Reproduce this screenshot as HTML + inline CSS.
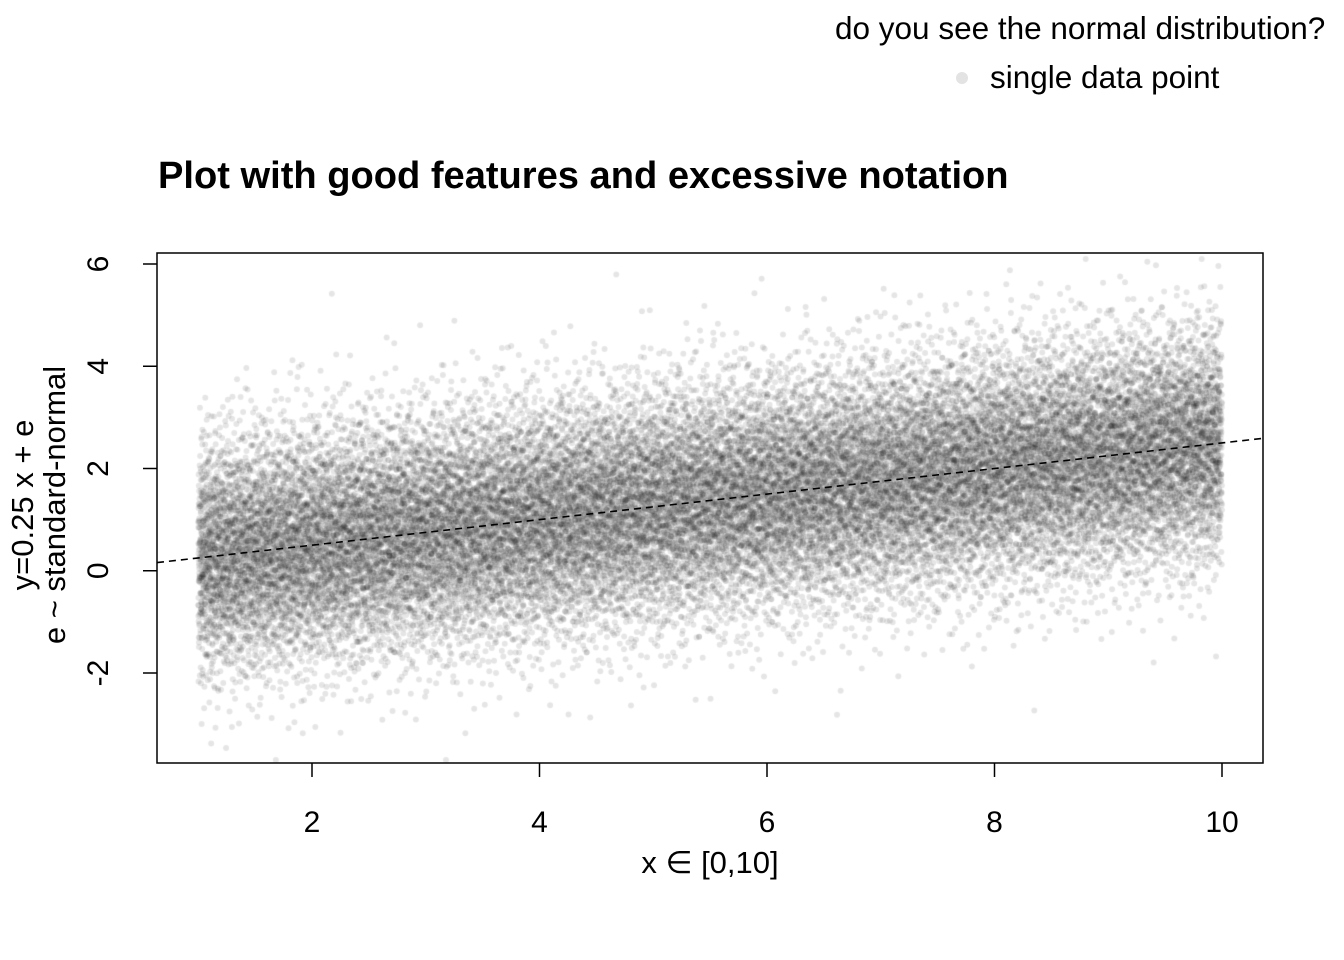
<!DOCTYPE html>
<html><head><meta charset="utf-8"><style>
body{margin:0;background:#fff;width:1344px;height:960px;overflow:hidden;font-family:"Liberation Sans",sans-serif}
svg,canvas{position:absolute;left:0;top:0}
</style></head><body>
<canvas id="pts" width="1344" height="960"></canvas>
<svg id="chart" width="1344" height="960" font-family="Liberation Sans, sans-serif">
<text x="835" y="39" font-size="31.5">do you see the normal distribution?</text>
<circle cx="962" cy="78" r="6" fill="#e3e3e3"/>
<text x="990" y="88" font-size="31.5">single data point</text>
<text x="158" y="188" font-size="38.1" font-weight="bold">Plot with good features and excessive notation</text>
<rect x="157" y="253" width="1106" height="510" fill="none" stroke="#000" stroke-width="1.5"/>
<g id="xaxis"></g>
<g id="yaxis"></g>
<line id="fit" stroke="#000" stroke-width="1.6" stroke-dasharray="7,5"/>
<text x="710" y="873" font-size="31" text-anchor="middle">x ∈  [0,10]</text>
<g transform="translate(33,505) rotate(-90)">
<text x="0" y="0" font-size="31" text-anchor="middle">y=0.25 x + e</text>
<text x="0" y="32" font-size="31" text-anchor="middle">e ~ standard-normal</text>
</g>
</svg>
<script>
const xTicks=[2,4,6,8,10];
const yTicks=[-2,0,2,4,6];
const slope=0.25, intercept=0;
// binned summary of the scatter
const binX=[1,2,3,4,5,6,7,8,9,10];
const binMean=[0.25,0.5,0.75,1.0,1.25,1.5,1.75,2.0,2.25,2.5];
const binSd=[1.15,1.15,1.15,1.15,1.15,1.15,1.15,1.15,1.15,1.15];
const nPoints=30000;
const X=v=>198.25+(v-1)*113.75;
const Y=v=>570.75-v*51.125;
const NS="http://www.w3.org/2000/svg";
const xa=document.getElementById('xaxis'), ya=document.getElementById('yaxis');
function mk(t,a,p){const e=document.createElementNS(NS,t);for(const k in a)e.setAttribute(k,a[k]);p.appendChild(e);return e;}
xTicks.forEach(t=>{
 const l=mk('line',{x1:X(t),x2:X(t),y1:763,y2:777,stroke:'#000','stroke-width':1.5},xa);
 
 
 const s=mk('text',{x:X(t),y:832,'font-size':30,'text-anchor':'middle'},xa);s.textContent=t;
 
 
});
yTicks.forEach(t=>{
 const l=mk('line',{x1:143,x2:157,y1:Y(t),y2:Y(t),stroke:'#000','stroke-width':1.5},ya);
 
 
 const s=mk('text',{x:0,y:0,'font-size':30,'text-anchor':'middle',transform:`translate(108,${Y(t)}) rotate(-90)`},ya);s.textContent=t;
 
 
});
const f=document.getElementById('fit');
const x0=(157-198.25)/113.75+1, x1=(1263-198.25)/113.75+1;
f.setAttribute('x1',157);f.setAttribute('x2',1263);
f.setAttribute('y1',Y(intercept+slope*x0));f.setAttribute('y2',Y(intercept+slope*x1));
function halton(i,b){let f=1,r=0;while(i>0){f/=b;r+=f*(i%b);i=Math.floor(i/b);}return r;}
const ctx=document.getElementById('pts').getContext('2d');
ctx.save();
ctx.beginPath();ctx.rect(157,253,1106,510);ctx.clip();
ctx.fillStyle='rgba(0,0,0,0.1)';
for(let i=1;i<=nPoints;i++){
 const u=halton(i,2), v=halton(i,3), w=halton(i,5);
 const x=binX[0]+u*(binX[binX.length-1]-binX[0]);
 const k=Math.min(binX.length-2,Math.floor(x-binX[0])); const fr=x-binX[k];
 const m=binMean[k]+(binMean[k+1]-binMean[k])*fr, sd=binSd[k]+(binSd[k+1]-binSd[k])*fr;
 const z=Math.sqrt(-2*Math.log(Math.max(v,1e-9)))*Math.cos(2*Math.PI*w);
 ctx.beginPath();ctx.arc(X(x),Y(m+sd*z),3,0,7);ctx.fill();
}
ctx.restore();
</script>
</body></html>
